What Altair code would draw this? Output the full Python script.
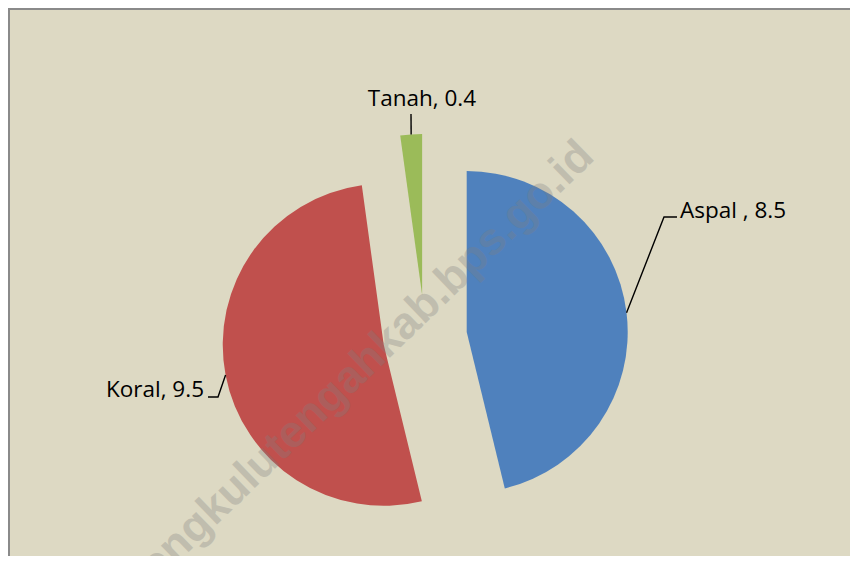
import altair as alt
import pandas as pd
import numpy as np

# ---- data ----
categories = ["Aspal", "Koral", "Tanah"]
values = [8.5, 9.5, 0.4]
labels = ["Aspal , 8.5", "Koral, 9.5", "Tanah, 0.4"]
colors = ["#4F81BD", "#C0504D", "#9BBB59"]
watermark = "bengkulutengahkab.bps.go.id"

# ---- layout ----
W, H = 842, 548
OFF = 8                      # page margin
CX, CY = 425 - OFF, 337 - OFF  # pie centre (un-exploded), page coords minus margin
R = 161
EXPLODE = 42
FONT = "Open Sans"
FS = 22.5

# label layout (page coords): text x, text y, align, leader elbow points
label_layout = {
    "Aspal": (680, 211, "left", [(664, 217), (677, 217)]),
    "Koral": (204, 390, "right", [(218, 397), (208, 397)]),
    "Tanah": (422, 99, "center", [(411, 114)]),
}

df = pd.DataFrame({"category": categories, "value": values, "order": list(range(len(values)))})

pie = (
    alt.Chart(df)
    .transform_joinaggregate(total="sum(value)")
    .transform_window(cum="sum(value)", sort=[alt.SortField("order", order="ascending")], frame=[None, 0])
    .transform_calculate(
        t1="(datum.cum - datum.value) / datum.total * 2 * PI",
        t2="datum.cum / datum.total * 2 * PI",
    )
    .transform_calculate(mid="(datum.t1 + datum.t2) / 2")
    .transform_calculate(
        cx=f"{CX} + {EXPLODE} * sin(datum.mid)",
        cy=f"{CY} - {EXPLODE} * cos(datum.mid)",
    )
    .mark_arc(radius=R)
    .encode(
        x=alt.X("cx:Q", scale=None, axis=None),
        y=alt.Y("cy:Q", scale=None, axis=None),
        theta=alt.Theta("t1:Q", scale=None, stack=False),
        theta2="t2:Q",
        color=alt.Color("category:N", scale=alt.Scale(domain=categories, range=colors), legend=None),
    )
)

# leader lines: from arc edge at the slice's mid angle to the label
total = sum(values)
cum = np.cumsum(values)
rows = []
for i, cat in enumerate(categories):
    mid = ((cum[i] - values[i]) + cum[i]) / 2 / total * 2 * np.pi
    ax = CX + (R + EXPLODE) * np.sin(mid)
    ay = CY - (R + EXPLODE) * np.cos(mid)
    pts = [(ax, ay)] + [(px - OFF, py - OFF) for px, py in label_layout[cat][3]]
    for j, (px, py) in enumerate(pts):
        rows.append({"category": cat, "seq": j, "px": px, "py": py})
lines_df = pd.DataFrame(rows)

leaders = (
    alt.Chart(lines_df)
    .mark_line(color="#000000", strokeWidth=1.4)
    .encode(
        x=alt.X("px:Q", scale=None, axis=None),
        y=alt.Y("py:Q", scale=None, axis=None),
        detail="category:N",
        order="seq:Q",
    )
)

text_layers = []
for cat, lab in zip(categories, labels):
    tx, ty, al, _ = label_layout[cat]
    tdf = pd.DataFrame({"label": [lab], "tx": [tx - OFF], "ty": [ty - OFF]})
    text_layers.append(
        alt.Chart(tdf)
        .mark_text(align=al, baseline="middle", font=FONT, fontSize=FS, color="#000000")
        .encode(
            x=alt.X("tx:Q", scale=None, axis=None),
            y=alt.Y("ty:Q", scale=None, axis=None),
            text="label:N",
        )
    )

wm = (
    alt.Chart(pd.DataFrame({"t": [watermark]}))
    .mark_text(angle=316, font="Liberation Sans", fontWeight="bold", fontSize=45,
               color="#7f7f7f", opacity=0.3, align="center", baseline="middle")
    .encode(x=alt.value(349), y=alt.value(362), text="t:N")
)

border_left = alt.Chart(pd.DataFrame({"a": [0]})).mark_rule(color="#8a8a8a", strokeWidth=2).encode(
    x=alt.value(1), y=alt.value(0), y2=alt.value(H)
)
border_top = alt.Chart(pd.DataFrame({"a": [0]})).mark_rule(color="#8a8a8a", strokeWidth=2).encode(
    x=alt.value(0), x2=alt.value(W), y=alt.value(1)
)

chart = (
    alt.layer(pie, leaders, *text_layers, wm, border_left, border_top)
    .properties(width=W, height=H, padding=0, autosize=alt.AutoSizeParams(type="none"),
                background="#DDD9C3")
    .configure_view(stroke=None)
)

chart.save("out.html", embed_options={"renderer": "svg", "actions": False})
